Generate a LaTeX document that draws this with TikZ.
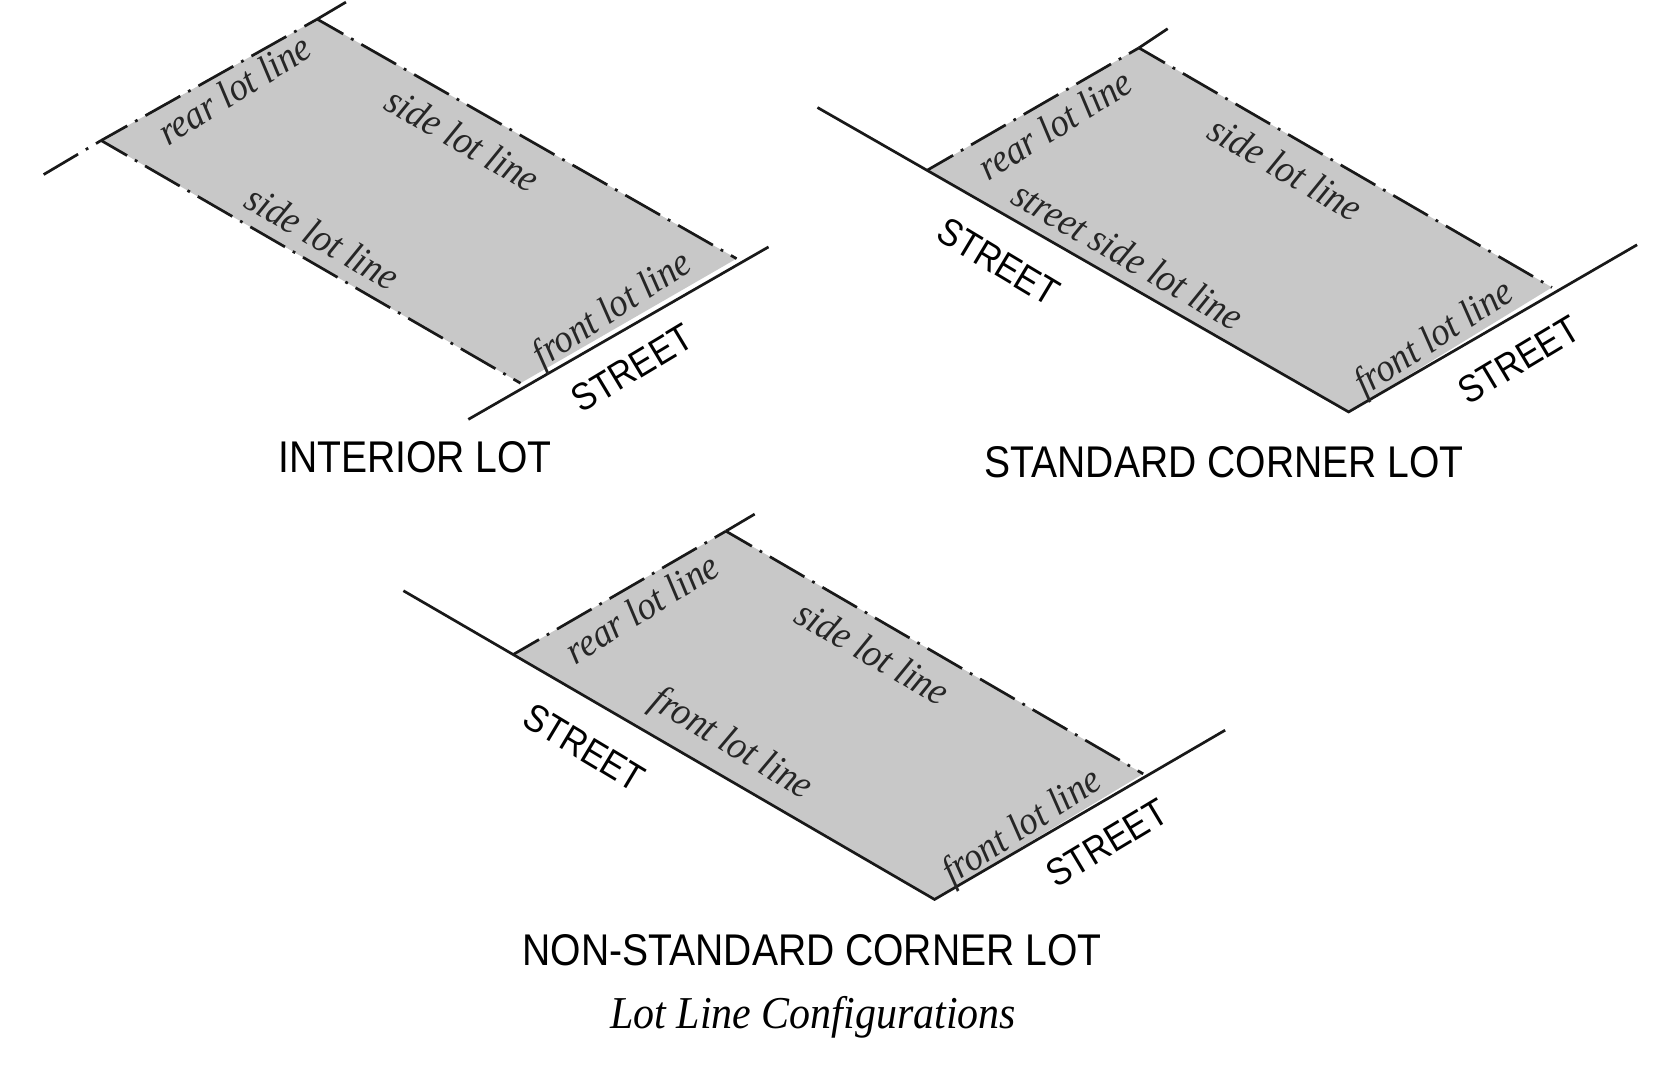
\documentclass[tikz,border=0pt]{standalone}
\usepackage{fontspec}
\setmainfont{Liberation Serif}
\newfontfamily\capsfont[FakeStretch=0.88]{Liberation Sans}
\newfontfamily\lotfont[FakeStretch=0.92]{Liberation Serif}
\usepackage{xcolor}
\definecolor{lotgray}{HTML}{C8C8C8}

\begin{document}
\begin{tikzpicture}[x=.5322pt, y=-.5322pt]
    % Define node styles
    \tikzstyle{lotfill} = [fill=lotgray, draw=none]
    \tikzstyle{solidline} = [line width=1.35pt, black!90]
    \tikzstyle{lotline} = [line width=1.35pt, black!90, dash pattern=on 20pt off 4.5pt on 1.4pt off 4.5pt, dash phase=5pt]
    \tikzstyle{linelabel} = [font=\lotfont\fontsize{19.8}{20}\selectfont\itshape, text=black!85, inner sep=0pt]
    \tikzstyle{streetlabel} = [font=\capsfont\fontsize{19.2}{22}\selectfont, inner sep=0pt]
    \tikzstyle{lotname} = [font=\capsfont\fontsize{22.2}{24}\selectfont, inner sep=0pt]

    \useasboundingbox (0,0) rectangle (1568,1001.5);

    % First lot (interior)
    \coordinate (a1) at (95,132);
    \coordinate (b1) at (298,18);
    \coordinate (c1) at (692,243);
    \coordinate (d1) at (489,360);
    \coordinate (a1end) at (41,164);
    \coordinate (b1end) at (325,2);
    \coordinate (s1) at (440,394);
    \coordinate (s2) at (722,232);

    \fill[lotfill] (a1) -- (b1) -- (c1) -- (d1) -- cycle;
    \draw[lotline, dash phase=0pt] (a1end) -- (a1);
    \draw[lotline] (a1) -- (b1);
    \draw[solidline] (b1) -- (b1end);
    \draw[lotline] (b1) -- (c1);
    \draw[lotline] (a1) -- (d1);
    \draw[solidline] (s1) -- (s2);

    \node[linelabel, rotate=32] (rear1) at (220,84) {rear lot line};
    \node[linelabel, rotate=-30] (side1) at (435,131) {side lot line};
    \node[linelabel, rotate=-30] (side2) at (303,223) {side lot line};
    \node[linelabel, rotate=33] (front1) at (576,292) {front lot line};
    \node[streetlabel, rotate=31] (street1) at (594,346) {STREET};
    \node[lotname] (name1) at (390,430) {INTERIOR LOT};

    % Second lot (standard corner)
    \coordinate (a2) at (871,160);
    \coordinate (b2) at (1070,45);
    \coordinate (c2) at (1458,270);
    \coordinate (d2) at (1267,387);
    \coordinate (a2end) at (768,101);
    \coordinate (b2end) at (1097,27);
    \coordinate (s3) at (1538,230);

    \fill[lotfill] (a2) -- (b2) -- (c2) -- (d2) -- cycle;
    \draw[lotline] (a2) -- (b2);
    \draw[solidline] (b2) -- (b2end);
    \draw[lotline] (b2) -- (c2);
    \draw[solidline] (a2end) -- (d2) -- (s3);

    \node[linelabel, rotate=32] (rear2) at (991,117) {rear lot line};
    \node[linelabel, rotate=-30] (side3) at (1208,158) {side lot line};
    \node[linelabel, rotate=-30] (streetside) at (1060,240) {street side lot line};
    \node[linelabel, rotate=33] (front2) at (1348,319) {front lot line};
    \node[streetlabel, rotate=-31] (street2) at (938,246) {STREET};
    \node[streetlabel, rotate=31] (street3) at (1427,338) {STREET};
    \node[lotname] (name2) at (1150,434) {STANDARD CORNER LOT};

    % Third lot (non-standard corner)
    \coordinate (a3) at (482,615);
    \coordinate (b3) at (682,499);
    \coordinate (c3) at (1074,727);
    \coordinate (d3) at (878,845);
    \coordinate (a3end) at (379,555);
    \coordinate (b3end) at (709,483);
    \coordinate (s4) at (1151,686);

    \fill[lotfill] (a3) -- (b3) -- (c3) -- (d3) -- cycle;
    \draw[lotline] (a3) -- (b3);
    \draw[solidline] (b3) -- (b3end);
    \draw[lotline] (b3) -- (c3);
    \draw[solidline] (a3end) -- (d3) -- (s4);

    \node[linelabel, rotate=32] (rear3) at (603,571) {rear lot line};
    \node[linelabel, rotate=-30] (side4) at (820,613) {side lot line};
    \node[linelabel, rotate=-31] (front3) at (687,700) {front lot line};
    \node[linelabel, rotate=33] (front4) at (961,778) {front lot line};
    \node[streetlabel, rotate=-31] (street4) at (549,702) {STREET};
    \node[streetlabel, rotate=31] (street5) at (1040,792) {STREET};
    \node[lotname] (name3) at (763,893) {NON-STANDARD CORNER LOT};

    % Caption
    \node[font=\lotfont\fontsize{22.8}{24}\selectfont\itshape, inner sep=0pt] (caption) at (764,956) {Lot Line Configurations};
\end{tikzpicture}
\end{document}
